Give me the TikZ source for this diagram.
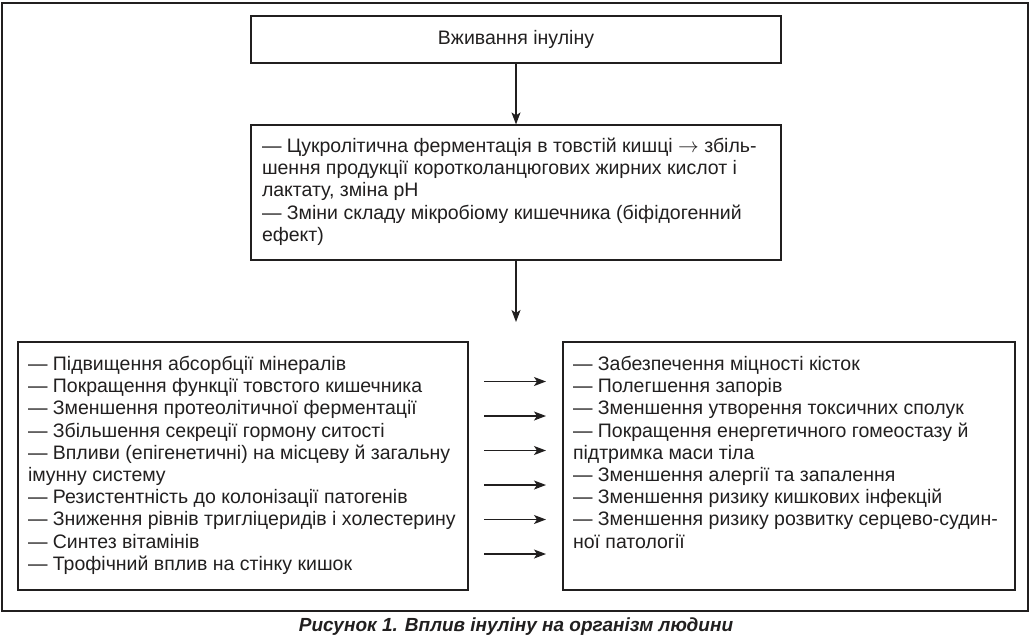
\documentclass[tikz,border=0pt]{standalone}
\usepackage{fontspec}
\setmainfont{Liberation Sans}
\usetikzlibrary{arrows.meta}
\definecolor{ink}{rgb}{0.13,0.12,0.12}
\tikzset{
  box/.style={draw=ink,text=ink,line width=1.2pt,inner sep=0pt,font=\fontsize{19.5}{22.2}\selectfont},
  arr/.style={draw=ink,line width=1.2pt,-{Stealth[length=12pt,width=9pt,inset=3pt]}}
}
\newcommand\blocktext[2]{\parbox[c][222pt][t]{#1}{\begin{tabular}{@{}l@{}}#2\end{tabular}}}

\begin{document}
\begin{tikzpicture}[x=1pt,y=-1pt]
\useasboundingbox (0,0) rectangle (1032,640);
\draw[ink,line width=1.2pt] (2,3) rectangle (1028,611);
% top of the chain
\node[box,minimum width=530pt,minimum height=47pt] (intake) at (516,39.5) {Вживання інуліну};
\node[box,minimum width=530pt,minimum height=135pt] (ferment) at (516,192.5)
  {\begin{tabular}{@{}p{508pt}@{}}— Цукролітична ферментація в товстій кишці $\rightarrow$ збіль-\\
   шення продукції коротколанцюгових жирних кислот і\\
   лактату, зміна pH\\
   — Зміни складу мікробіому кишечника (біфідогенний\\
   ефект)\end{tabular}};
\draw[arr] (intake.south) -- (ferment.north);
\coordinate (split) at (516,322);
\draw[arr] (ferment.south) -- (split);
% two lists
\node[box,minimum width=450pt,minimum height=248pt] (effects) at (243,466)
  {\blocktext{430pt}{— Підвищення абсорбції мінералів\\
   — Покращення функції товстого кишечника\\
   — Зменшення протеолітичної ферментації\\
   — Збільшення секреції гормону ситості\\
   — Впливи (епігенетичні) на місцеву й загальну\\
   імунну систему\\
   — Резистентність до колонізації патогенів\\
   — Зниження рівнів тригліцеридів і холестерину\\
   — Синтез вітамінів\\
   — Трофічний вплив на стінку кишок}};
\node[box,minimum width=452pt,minimum height=248pt] (outcomes) at (789,466)
  {\blocktext{432pt}{— Забезпечення міцності кісток\\
   — Полегшення запорів\\
   — Зменшення утворення токсичних сполук\\
   — Покращення енергетичного гомеостазу й\\
   підтримка маси тіла\\
   — Зменшення алергії та запалення\\
   — Зменшення ризику кишкових інфекцій\\
   — Зменшення ризику розвитку серцево-судин-\\
   ної патології}};
\foreach \i in {0,...,5}{
  \coordinate (from\i) at (484,381.5+34.5*\i);
  \coordinate (to\i) at (546,381.5+34.5*\i);
  \draw[arr] (from\i) -- (to\i);
}
\node[text=ink,font=\fontsize{19}{22}\selectfont\bfseries\itshape] (caption) at (516,627)
  {Рисунок 1. Вплив інуліну на організм людини};
\end{tikzpicture}
\end{document}
